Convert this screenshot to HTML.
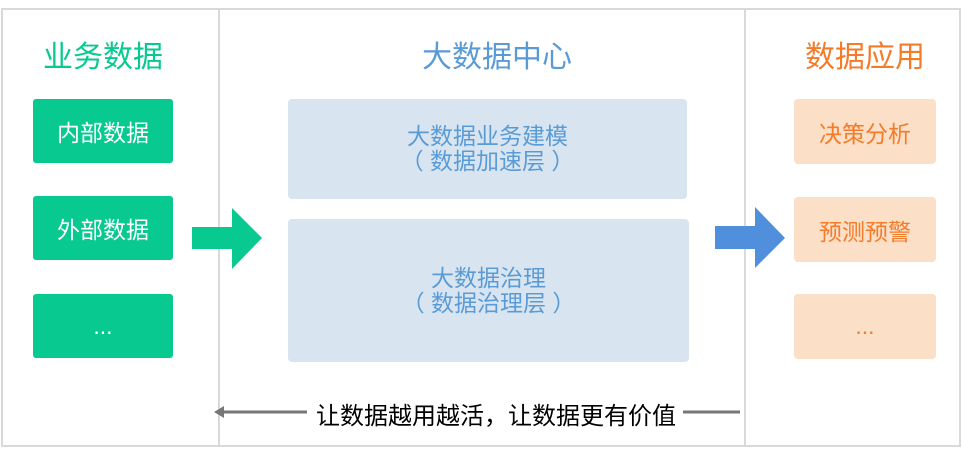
<!DOCTYPE html>
<html><head><meta charset="utf-8"><style>
body{margin:0;width:962px;height:454px;background:#fff;position:relative;overflow:hidden;font-family:"Liberation Sans","Noto Sans CJK SC",sans-serif}
.a{position:absolute}
.t{position:absolute;text-align:center;white-space:nowrap}
.g{background:#08c98f;border-radius:3px;color:#fff;font-size:23px;display:flex;align-items:center;justify-content:center}
.b{background:#d8e5f0;border-radius:4px;color:#5b9bd5;font-size:23px;line-height:25px;display:flex;align-items:center;justify-content:center;text-align:center}
.o{background:#fbdfc6;border-radius:4px;color:#f47b2a;font-size:23px;display:flex;align-items:center;justify-content:center}
</style></head><body>
<div class="a" style="left:1px;top:8px;width:956px;height:435px;border:2px solid #d9d9d9"></div>
<div class="a" style="left:218px;top:9px;width:2px;height:436px;background:#d9d9d9"></div>
<div class="a" style="left:744px;top:9px;width:2px;height:436px;background:#d9d9d9"></div>

<div class="t" style="left:3px;width:200px;top:32px;font-size:30px;color:#08c98f">业务数据</div>
<div class="t" style="left:397px;width:200px;top:32px;font-size:30px;color:#5b9bd5">大数据中心</div>
<div class="t" style="left:765px;width:200px;top:32px;font-size:30px;color:#f47b2a">数据应用</div>

<div class="a g" style="left:33px;top:99px;width:140px;height:64px">内部数据</div>
<div class="a g" style="left:33px;top:196px;width:140px;height:64px">外部数据</div>
<div class="a g" style="left:33px;top:294px;width:140px;height:64px">...</div>

<div class="a b" style="left:288px;top:99px;width:399px;height:100px">大数据业务建模<br>（ 数据加速层 ）</div>
<div class="a b" style="left:288px;top:219px;width:401px;height:143px">大数据治理<br>（ 数据治理层 ）</div>

<div class="a o" style="left:794px;top:99px;width:142px;height:65px">决策分析</div>
<div class="a o" style="left:794px;top:197px;width:142px;height:65px">预测预警</div>
<div class="a o" style="left:794px;top:294px;width:142px;height:65px">...</div>

<svg class="a" style="left:0;top:0" width="962" height="454">
<polygon points="192,227 232,227 232,208 262,238 232,269 232,249 192,249" fill="#08c98f"/>
<polygon points="715,226 755,226 755,207 785,238 755,268 755,249 715,249" fill="#4f8fdc"/>
<line x1="222" y1="412" x2="307" y2="412" stroke="#777" stroke-width="3"/>
<polygon points="214,412 224,406 224,418" fill="#777"/>
<line x1="683" y1="412" x2="740" y2="412" stroke="#777" stroke-width="3"/>
</svg>
<div class="t" style="left:312px;width:368px;top:396px;font-size:24px;color:#000">让数据越用越活，让数据更有价值</div>
</body></html>
